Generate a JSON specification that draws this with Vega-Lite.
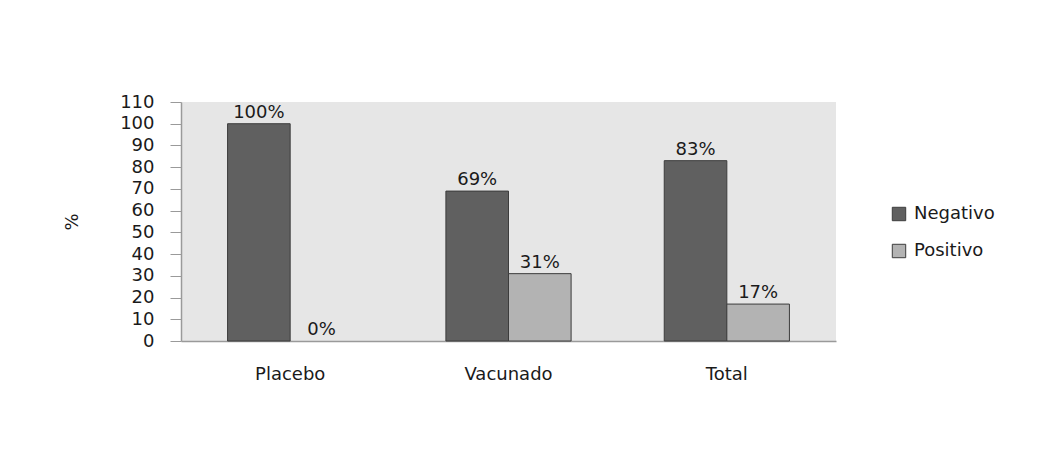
{
  "$schema": "https://vega.github.io/schema/vega-lite/v6.json",
  "width": 655,
  "height": 239,
  "autosize": {"type": "none"},
  "padding": {"left": 181, "top": 102, "right": 206, "bottom": 114},
  "background": "white",
  "config": {
    "font": "DejaVu Sans",
    "view": {"fill": "#e6e6e6", "stroke": null},
    "axis": {"labelFont": "DejaVu Sans", "labelColor": "#1a1a1a", "titleColor": "#1a1a1a"}
  },
  "data": {
    "values": [
      {"grupo": "Placebo", "resultado": "Negativo", "pct": 100, "label": "100%"},
      {"grupo": "Placebo", "resultado": "Positivo", "pct": 0, "label": "0%"},
      {"grupo": "Vacunado", "resultado": "Negativo", "pct": 69, "label": "69%"},
      {"grupo": "Vacunado", "resultado": "Positivo", "pct": 31, "label": "31%"},
      {"grupo": "Total", "resultado": "Negativo", "pct": 83, "label": "83%"},
      {"grupo": "Total", "resultado": "Positivo", "pct": 17, "label": "17%"}
    ]
  },
  "encoding": {
    "x": {
      "field": "grupo", "type": "nominal", "sort": ["Placebo", "Vacunado", "Total"],
      "scale": {"paddingInner": 0, "paddingOuter": 0},
      "axis": {"title": null, "labelAngle": 0, "labelFontSize": 18, "labelPadding": 24, "ticks": false, "domainColor": "#9a9a9a", "domainWidth": 1.5}
    },
    "xOffset": {
      "field": "resultado", "type": "nominal",
      "scale": {"paddingInner": 0, "paddingOuter": 0.744}
    },
    "y": {
      "field": "pct", "type": "quantitative",
      "scale": {"domain": [0, 110], "nice": false},
      "axis": {"title": "%", "titleFontSize": 18, "titleFontWeight": "normal", "titlePadding": 38, "titleAngle": -90,
        "values": [0,10,20,30,40,50,60,70,80,90,100,110], "grid": false,
        "labelFontSize": 18, "labelPadding": 16, "tickSize": 11, "tickColor": "#9a9a9a", "domainColor": "#9a9a9a", "domainWidth": 1.5}
    }
  },
  "layer": [
    {
      "mark": {"type": "bar", "stroke": "#3c3c3c"},
      "encoding": {
        "strokeWidth": {"condition": {"test": "datum.pct === 0", "value": 0}, "value": 1},
        "color": {
          "field": "resultado", "type": "nominal",
          "scale": {"domain": ["Negativo", "Positivo"], "range": ["#606060", "#b3b3b3"]},
          "legend": {"title": null, "orient": "none", "legendX": 709, "legendY": 103,
            "symbolType": "square", "symbolSize": 180, "symbolStrokeColor": "#3c3c3c", "symbolStrokeWidth": 1,
            "labelFontSize": 18, "labelColor": "#1a1a1a", "rowPadding": 19, "labelOffset": 6}
        }
      }
    },
    {
      "mark": {"type": "text", "baseline": "alphabetic", "dy": -6, "fontSize": 18, "color": "#1a1a1a"},
      "encoding": {"text": {"field": "label"}}
    }
  ]
}
